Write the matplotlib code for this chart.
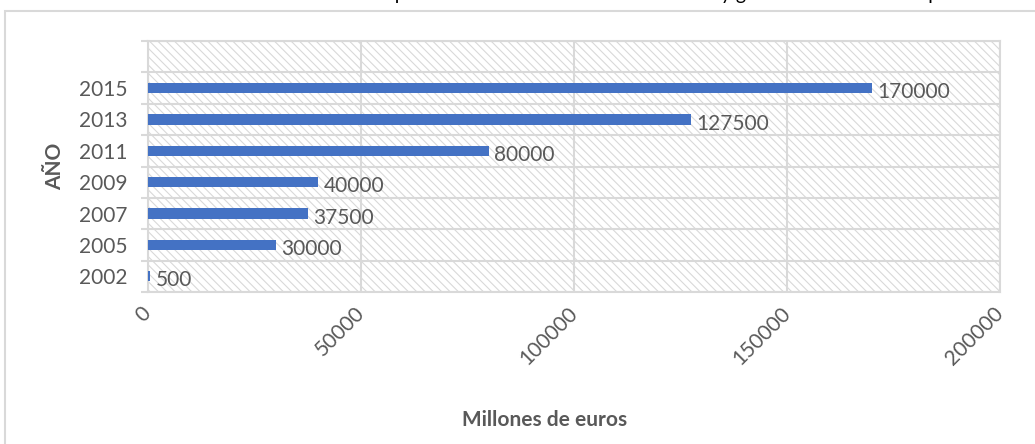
import matplotlib.pyplot as plt
from matplotlib.patches import Rectangle

years = ["2002", "2005", "2007", "2009", "2011", "2013", "2015"]
millions = [500, 30000, 37500, 40000, 80000, 127500, 170000]
x_ticks = [0, 50000, 100000, 150000, 200000]

title_text = "Evolución del importe destinado a la industria del ocio y gasto total anual en el periodo 2002-2015"

BAR_COLOR = "#4472C4"
TEXT_COLOR = "#595959"
GRID_COLOR = "#d9d9d9"

plt.rcParams["font.family"] = ["Lato", "DejaVu Sans"]
plt.rcParams["hatch.linewidth"] = 0.8
plt.rcParams["hatch.color"] = GRID_COLOR

fig = plt.figure(figsize=(10.35, 4.44), dpi=100)
ax = fig.add_axes([148 / 1035, 1 - 292 / 444, 852 / 1035, 251 / 444])

# outer chart frame (cut by the picture edges)
fig.patches.append(Rectangle((5 / 1035, -0.1), 1.1, 1.1 - 11 / 444, transform=fig.transFigure,
                             facecolor="none", edgecolor=GRID_COLOR, linewidth=1.5, clip_on=False))

# hatched plot background
ax.add_patch(Rectangle((0, 0), 1, 1, transform=ax.transAxes, facecolor="white",
                       edgecolor=GRID_COLOR, hatch="\\\\\\\\", linewidth=0, zorder=0))

positions = list(range(len(years)))
ax.barh(positions, millions, height=0.33, color=BAR_COLOR, zorder=3)
for pos, val in zip(positions, millions):
    ax.annotate(str(val), (val, pos), xytext=(4, -3), textcoords="offset points",
                ha="left", va="center", fontsize=15, color=TEXT_COLOR, zorder=4)

ax.set_xlim(0, 200000)
ax.set_ylim(-0.5, len(years) + 0.5)
ax.set_xticks(x_ticks)
ax.set_xticklabels([str(t) for t in x_ticks], rotation=45, rotation_mode="anchor",
                   ha="right", va="center", fontsize=15, color=TEXT_COLOR)
ax.set_yticks(positions)
ax.set_yticklabels(years, fontsize=15, color=TEXT_COLOR)
ax.set_yticks([p - 0.5 for p in range(len(years) + 2)], minor=True)
ax.tick_params(axis="both", which="major", length=0)
ax.tick_params(axis="x", pad=13)
ax.tick_params(axis="y", pad=15)
ax.tick_params(axis="y", which="minor", length=5, color=GRID_COLOR, width=1.5)
ax.grid(axis="y", which="minor", color=GRID_COLOR, linewidth=1.5, zorder=1)
ax.grid(axis="x", which="major", color=GRID_COLOR, linewidth=1.5, zorder=1)
ax.set_axisbelow(True)
for spine in ax.spines.values():
    spine.set_color(GRID_COLOR)
    spine.set_linewidth(1.5)

ax.set_xlabel("Millones de euros", fontsize=15, fontweight="bold", color=TEXT_COLOR)
ax.xaxis.set_label_coords(0.466, -0.47)
ax.set_ylabel("AÑO", fontsize=15, fontweight="bold", color=TEXT_COLOR)
ax.yaxis.set_label_coords(-0.097, 0.5)

fig.text(254 / 1035, 1.0, title_text, fontsize=14, color="black", ha="left", va="baseline")

fig.savefig("out.png", dpi=100)
